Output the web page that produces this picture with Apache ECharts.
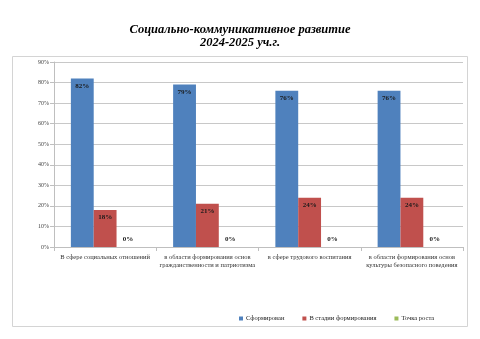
<!DOCTYPE html>
<html>
<head>
<meta charset="utf-8">
<script src="https://cdn.jsdelivr.net/npm/echarts@6/dist/echarts.min.js"></script>
<style>
html,body{margin:0;padding:0;background:#fff;}
#chart{width:480px;height:339px;}
</style>
</head>
<body>
<div id="chart"></div>
<script>
// Categories and values (percent)
const categories = [
  'В сфере социальных отношений',
  'в области формирования основ\nгражданственности и патриотизма',
  'в сфере трудового воспитания',
  'в области формирования основ\nкультуры безопасного поведения'
];
const seriesNames = ['Сформирован', 'В стадии формирования', 'Точка роста'];
const formed = [82, 79, 76, 76];
const forming = [18, 21, 24, 24];
const growth = [0, 0, 0, 0];
const yTicks = [0, 10, 20, 30, 40, 50, 60, 70, 80, 90];

const serif = '"Liberation Serif", "DejaVu Serif", serif';
const colors = ['#4F81BD', '#C0504D', '#9BBB59'];

function barSeries(name, data, color, pos) {
  return {
    name: name,
    type: 'bar',
    data: data,
    itemStyle: { color: color },
    barGap: '0%',
    barCategoryGap: '33%',
    label: {
      show: true,
      position: pos,
      distance: 4,
      formatter: '{c}%',
      fontFamily: serif,
      fontSize: 7,
      fontWeight: 'bold',
      color: '#1a1a1a'
    }
  };
}

const chart = echarts.init(document.getElementById('chart'), null, { renderer: 'canvas' });
chart.setOption({
  animation: false,
  backgroundColor: '#fff',
  title: {
    text: 'Социально-коммуникативное развитие\n2024-2025 уч.г.',
    left: 'center',
    top: 18,
    textStyle: {
      fontFamily: serif,
      fontSize: 12.5,
      fontWeight: 'bold',
      fontStyle: 'italic',
      color: '#000',
      lineHeight: 13
    }
  },
  graphic: [{
    type: 'rect',
    shape: { x: 12.5, y: 56.5, width: 455, height: 270 },
    style: { fill: 'none', stroke: '#d4d4d4', lineWidth: 1 },
    silent: true,
    z: -1
  }],
  legend: {
    data: seriesNames,
    left: 234,
    top: 310,
    width: 240,
    itemWidth: 4,
    itemHeight: 4,
    itemGap: 18,
    icon: 'rect',
    textStyle: { fontFamily: serif, fontSize: 6.5, color: '#222', padding: [0, 0, 0, -2] }
  },
  grid: { left: 54, right: 17, top: 62, bottom: 92 },
  xAxis: {
    type: 'category',
    data: categories,
    axisLine: { lineStyle: { color: '#bfbfbf' } },
    axisTick: { show: true, alignWithLabel: false, length: 4, lineStyle: { color: '#bfbfbf' } },
    axisLabel: {
      interval: 0,
      fontFamily: serif,
      fontSize: 6.5,
      color: '#333',
      lineHeight: 8,
      margin: 6
    }
  },
  yAxis: {
    type: 'value',
    min: 0,
    max: 90,
    interval: 10,
    axisLine: { show: true, lineStyle: { color: '#bfbfbf' } },
    axisTick: { show: true, length: 4, lineStyle: { color: '#bfbfbf' } },
    splitLine: { lineStyle: { color: '#c8c8c8' } },
    axisLabel: {
      fontFamily: serif,
      fontSize: 6,
      color: '#444',
      margin: 5,
      formatter: function (v) { return yTicks.indexOf(v) >= 0 ? v + '%' : ''; }
    }
  },
  series: [
    barSeries(seriesNames[0], formed, colors[0], 'insideTop'),
    barSeries(seriesNames[1], forming, colors[1], 'insideTop'),
    barSeries(seriesNames[2], growth, colors[2], 'top')
  ]
});
</script>
</body>
</html>
